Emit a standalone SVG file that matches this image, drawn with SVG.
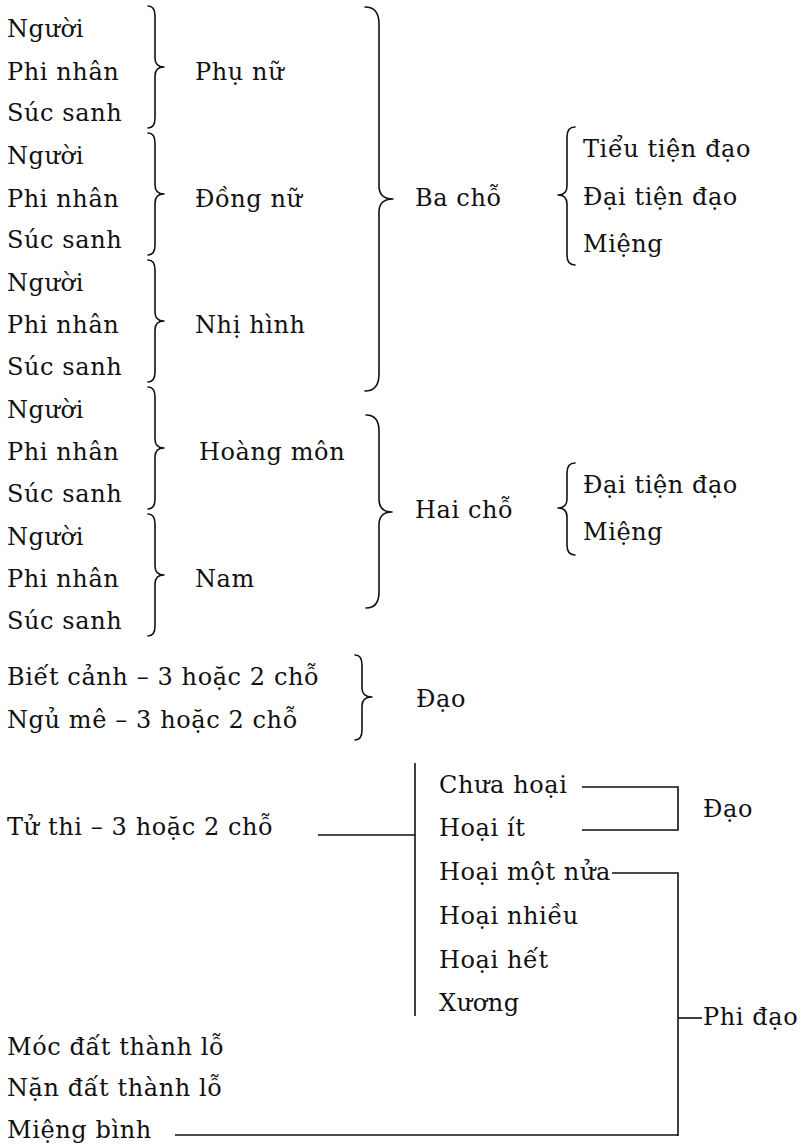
<svg xmlns="http://www.w3.org/2000/svg" width="803" height="1148" viewBox="0 0 803 1148">
<style>
text{font-family:"DejaVu Serif","Liberation Serif",serif;font-size:24px;letter-spacing:0.6px;fill:#111;}
.br{fill:none;stroke:#111;stroke-width:1.6;stroke-linejoin:round;stroke-linecap:round;}
.ln{fill:none;stroke:#111;stroke-width:1.6;}
</style>
<rect width="803" height="1148" fill="#fff"/>
<g id="g-phunu">
<text x="7" y="37">Người</text><text x="7" y="80">Phi nhân</text><text x="7" y="121">Súc sanh</text>
<path class="br" d="M148,6 Q155,6 155,16 L155,58 Q155,67 164,67 Q155,67 155,76 L155,118 Q155,128 148,128"/>
<text x="195" y="80">Phụ nữ</text>
</g>
<g id="g-dongnu">
<text x="7" y="164">Người</text><text x="7" y="207">Phi nhân</text><text x="7" y="248">Súc sanh</text>
<path class="br" d="M148,133 Q155,133 155,143 L155,185 Q155,194 164,194 Q155,194 155,203 L155,245 Q155,255 148,255"/>
<text x="195" y="207">Đồng nữ</text>
</g>
<g id="g-nhihinh">
<text x="7" y="291">Người</text><text x="7" y="333">Phi nhân</text><text x="7" y="375">Súc sanh</text>
<path class="br" d="M148,260 Q155,260 155,270 L155,312 Q155,321 164,321 Q155,321 155,330 L155,372 Q155,382 148,382"/>
<text x="195" y="333">Nhị hình</text>
</g>
<g id="g-hoangmon">
<text x="7" y="418">Người</text><text x="7" y="460">Phi nhân</text><text x="7" y="502">Súc sanh</text>
<path class="br" d="M148,387 Q155,387 155,397 L155,439 Q155,448 164,448 Q155,448 155,457 L155,499 Q155,509 148,509"/>
<text x="199" y="460">Hoàng môn</text>
</g>
<g id="g-nam">
<text x="7" y="545">Người</text><text x="7" y="587">Phi nhân</text><text x="7" y="629">Súc sanh</text>
<path class="br" d="M148,514 Q155,514 155,524 L155,566 Q155,575 164,575 Q155,575 155,584 L155,626 Q155,636 148,636"/>
<text x="195" y="587">Nam</text>
</g>
<g id="g-bacho">
<path class="br" d="M365,7 Q379,7 379,24 L379,186 Q379,199 393,199 Q379,199 379,212 L379,374 Q379,391 365,391"/>
<text x="415" y="206">Ba chỗ</text>
<path class="br" d="M575,127 Q567,127 567,137 L567,186 Q567,195 558,195 Q567,195 567,204 L567,255 Q567,265 575,265"/>
<text x="583" y="157">Tiểu tiện đạo</text>
<text x="583" y="205">Đại tiện đạo</text>
<text x="583" y="252">Miệng</text>
</g>
<g id="g-haicho">
<path class="br" d="M366,415 Q379,415 379,431 L379,499 Q379,512 392,512 Q379,512 379,525 L379,592 Q379,608 366,608"/>
<text x="415" y="518">Hai chỗ</text>
<path class="br" d="M575,463 Q567,463 567,473 L567,499 Q567,508 558,508 Q567,508 567,517 L567,545 Q567,555 575,555"/>
<text x="583" y="493">Đại tiện đạo</text>
<text x="583" y="540">Miệng</text>
</g>
<g id="g-dao1">
<text x="7" y="685">Biết cảnh – 3 hoặc 2 chỗ</text>
<text x="7" y="728">Ngủ mê – 3 hoặc 2 chỗ</text>
<path class="br" d="M355,655 Q362,655 362,665 L362,688 Q362,697 372,697 Q362,697 362,706 L362,730 Q362,740 355,740"/>
<text x="416" y="707">Đạo</text>
</g>
<g id="g-tuthi">
<text x="7" y="835">Tử thi – 3 hoặc 2 chỗ</text>
<text x="439" y="793">Chưa hoại</text>
<text x="439" y="836">Hoại ít</text>
<text x="439" y="880">Hoại một nửa</text>
<text x="439" y="924">Hoại nhiều</text>
<text x="439" y="968">Hoại hết</text>
<text x="439" y="1011">Xương</text>
</g>
<g id="g-dao2"><text x="703" y="817">Đạo</text></g>
<g id="g-phidao"><text x="703" y="1025">Phi đạo</text></g>
<g id="g-khac">
<text x="7" y="1055">Móc đất thành lỗ</text>
<text x="7" y="1096">Nặn đất thành lỗ</text>
<text x="7" y="1138">Miệng bình</text>
</g>
<g id="connectors">
<path class="ln" d="M318,835 H415"/>
<path class="ln" d="M415,763 V1016"/>
<path class="ln" d="M582,787 H678 V830 H582"/>
<path class="ln" d="M612,873 H678 V1136"/>
<path class="ln" d="M678,1018 H702"/>
<path class="ln" d="M175,1135 H678"/>
</g>
</svg>
